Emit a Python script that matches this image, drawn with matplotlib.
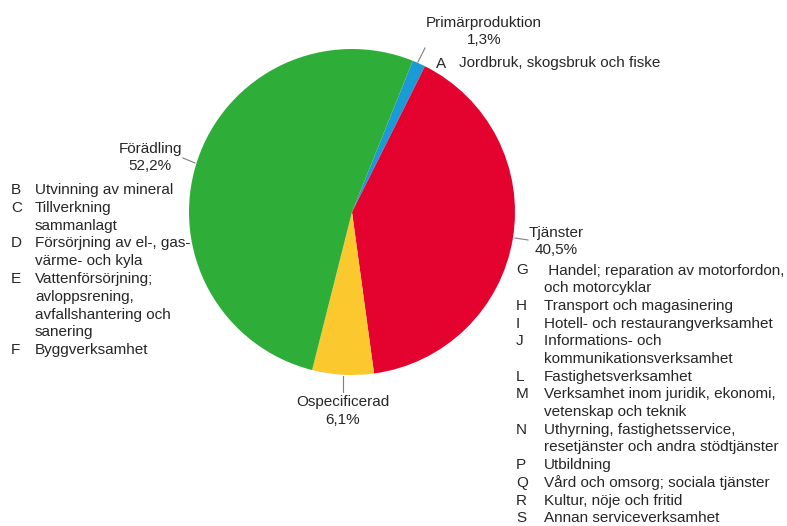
import matplotlib
matplotlib.use("Agg")
import matplotlib.pyplot as plt

W, H = 787, 526

# data
sectors = ["Primärproduktion", "Tjänster", "Ospecificerad", "Förädling"]
shares = [1.3, 40.5, 6.1, 52.2]
share_labels = ["1,3%", "40,5%", "6,1%", "52,2%"]
colors = ["#1b9ad8", "#e4022f", "#fbc82e", "#2eae38"]

prim_list = [("A", "Jordbruk, skogsbruk och fiske")]
foradl_list = [
    ("B", "Utvinning av mineral"),
    ("C", "Tillverkning"),
    ("", "sammanlagt"),
    ("D", "Försörjning av el-, gas-"),
    ("", "värme- och kyla"),
    ("E", "Vattenförsörjning;"),
    ("", "avloppsrening,"),
    ("", "avfallshantering och"),
    ("", "sanering"),
    ("F", "Byggverksamhet"),
]
tjanst_list = [
    ("G", " Handel; reparation av motorfordon,"),
    ("", "och motorcyklar"),
    ("H", "Transport och magasinering"),
    ("I", "Hotell- och restaurangverksamhet"),
    ("J", "Informations- och"),
    ("", "kommunikationsverksamhet"),
    ("L", "Fastighetsverksamhet"),
    ("M", "Verksamhet inom juridik, ekonomi,"),
    ("", "vetenskap och teknik"),
    ("N", "Uthyrning, fastighetsservice,"),
    ("", "resetjänster och andra stödtjänster"),
    ("P", "Utbildning"),
    ("Q", "Vård och omsorg; sociala tjänster"),
    ("R", "Kultur, nöje och fritid"),
    ("S", "Annan serviceverksamhet"),
]

plt.rcParams['font.family'] = ['Liberation Sans', 'DejaVu Sans']
txt = "#262626"
fs = 11

fig = plt.figure(figsize=(W / 100, H / 100), dpi=100)
ax = fig.add_axes([0, 0, 1, 1])

ax.pie(shares, colors=colors, startangle=68.1, counterclock=False,
       center=(352, H - 212), radius=163, wedgeprops=dict(linewidth=0))
ax.set_xlim(0, W)
ax.set_ylim(0, H)
ax.set_aspect('equal')
ax.axis('off')


def py(y):
    return H - y


# sector labels (pixel coords from top)
lab_pos = {
    "Primärproduktion": (484, 22.5),
    "Tjänster": (556, 233),
    "Ospecificerad": (343, 402),
    "Förädling": (150, 148.5),
}
for name, pct in zip(sectors, share_labels):
    x, y = lab_pos[name]
    ax.text(x, py(y), name, ha='center', va='center', fontsize=fs, color=txt)
    ax.text(x, py(y + 17.5), pct, ha='center', va='center', fontsize=fs, color=txt)

# leader lines
leaders = [((418, 62), (425, 48)), ((515, 238), (528, 240)),
           ((343, 376), (343, 392)), ((195, 163), (183, 158))]
for (x0, y0), (x1, y1) in leaders:
    ax.plot([x0, x1], [py(y0), py(y1)], color="#7f7f7f", lw=0.8)


def draw_list(items, xl, xt, y0, step):
    for i, (letter, text) in enumerate(items):
        y = py(y0 + i * step)
        if letter:
            ax.text(xl, y, letter, ha='left', va='center', fontsize=fs, color=txt)
        ax.text(xt, y, text, ha='left', va='center', fontsize=fs, color=txt)


draw_list(prim_list, 436, 459, 63.5, 17.7)
draw_list(foradl_list, 11, 35, 190, 17.8)
draw_list(tjanst_list, 516, 544, 270.5, 17.7)

fig.savefig("out.png", dpi=100)
